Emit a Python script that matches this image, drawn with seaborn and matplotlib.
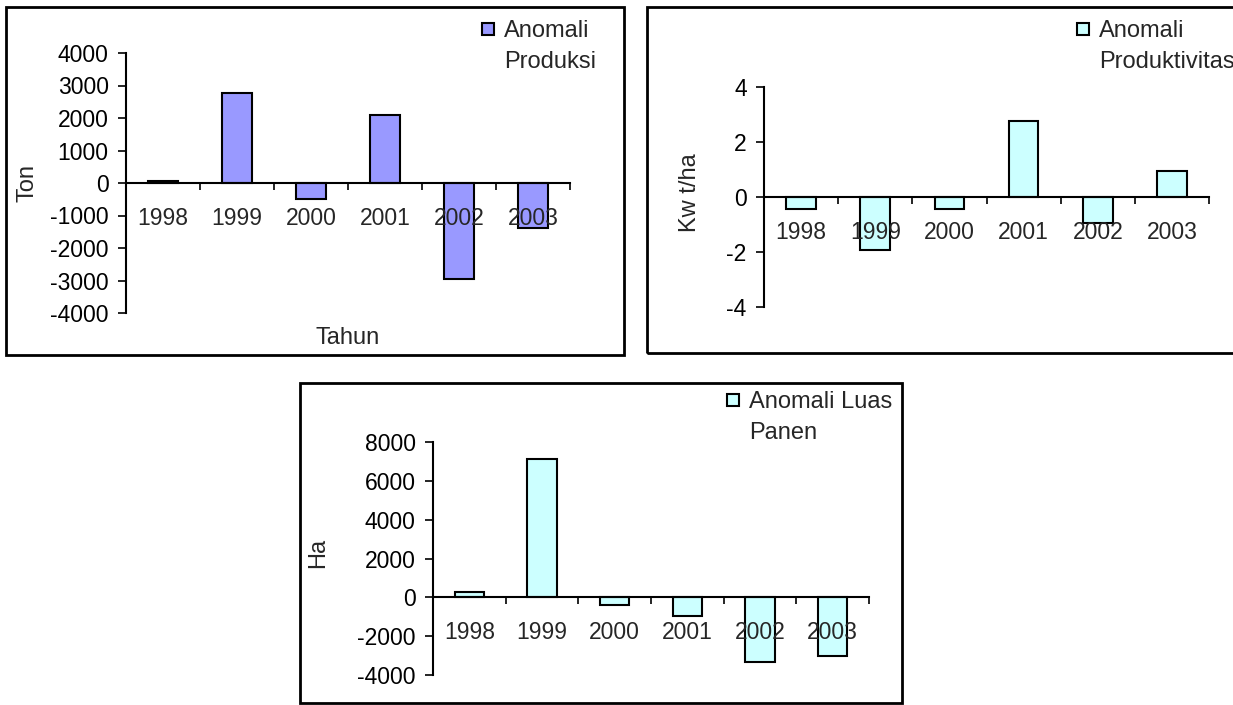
import matplotlib
matplotlib.use("Agg")
import matplotlib.pyplot as plt
from matplotlib.patches import Rectangle
import numpy as np
import seaborn as sns

years = ["1998", "1999", "2000", "2001", "2002", "2003"]
produksi = [60, 2770, -490, 2080, -2940, -1390]
produktivitas = [-0.43, -1.91, -0.43, 2.78, -0.95, 0.95]
luas_panen = [250, 7150, -370, -960, -3320, -3000]

W, H = 1233, 705

sns.set_style("white")
plt.rcParams["font.family"] = ["Liberation Sans", "DejaVu Sans"]
plt.rcParams["axes.unicode_minus"] = False

fig = plt.figure(figsize=(W / 100, H / 100), dpi=100)


def px_axes(left, top, right, bottom):
    return fig.add_axes([left / W, 1 - bottom / H, (right - left) / W, (bottom - top) / H])


def fig_xy(x, y):
    return x / W, 1 - y / H


def box(left, top, right, bottom):
    x0, y0 = fig_xy(left, bottom)
    fig.patches.append(Rectangle((x0, y0), (right - left) / W, (bottom - top) / H,
                                 transform=fig.transFigure, fill=False,
                                 edgecolor="black", linewidth=2))


def legend(x, y, color, text):
    # square marker + label, top-left at pixel (x, y)
    x0, y0 = fig_xy(x, y + 12)
    fig.patches.append(Rectangle((x0, y0), 12 / W, 12 / H, transform=fig.transFigure,
                                 facecolor=color, edgecolor="black", linewidth=1.5))
    tx, ty = fig_xy(x + 22, y - 3)
    fig.text(tx, ty, text, fontsize=17, va="top", ha="left", linespacing=1.55)


def panel(ax, values, color, ylim, step, ylabel, ylab_xy):
    sns.barplot(x=years, y=values, color=color, saturation=1, width=0.4,
                edgecolor="black", linewidth=1.5, ax=ax)
    ax.set_axisbelow(False)
    ax.set_xlim(-0.5, 5.5)
    ax.set_ylim(*ylim)
    ax.set_yticks(np.arange(ylim[0], ylim[1] + step / 2, step))
    ax.set_xticks(np.arange(-0.5, 6, 1), labels=[""] * 7)
    ax.set_xticks(range(6), labels=years, minor=True)
    ax.set_facecolor("none")
    for s in ["top", "right"]:
        ax.spines[s].set_visible(False)
    ax.spines["bottom"].set_position(("data", 0))
    ax.spines["bottom"].set_linewidth(1.5)
    ax.spines["left"].set_linewidth(1.5)
    ax.spines["bottom"].set_color("black")
    ax.spines["left"].set_color("black")
    ax.tick_params(axis="y", direction="out", length=5.5, width=1.2, pad=7,
                   labelsize=16.5, left=True, colors="black")
    ax.tick_params(axis="x", which="major", direction="out", length=5, width=1.2,
                   bottom=True, colors="black")
    ax.tick_params(axis="x", which="minor", length=0, pad=17, labelsize=16.5)
    ax.set_xlabel("")
    ax.set_ylabel(ylabel, fontsize=17)
    ax.yaxis.label.set_va("center")
    ax.yaxis.set_label_coords(*fig_xy(*ylab_xy), transform=fig.transFigure)


# panel 1: produksi
box(6, 7, 624, 355)
ax1 = px_axes(126, 53, 570, 313)
panel(ax1, produksi, "#9999FF", (-4000, 4000), 1000, "Ton", (28, 183))
fig.text(*fig_xy(348, 338), "Tahun", fontsize=17, ha="center", va="center")
legend(482, 23, "#9999FF", "Anomali\nProduksi")

# panel 2: produktivitas
box(647, 7, 1245, 353)
ax2 = px_axes(764, 87, 1209, 307)
panel(ax2, produktivitas, "#CCFFFF", (-4, 4), 2, "Kw t/ha", (690, 193))
legend(1077, 23, "#CCFFFF", "Anomali\nProduktivitas")

# panel 3: luas panen
box(300, 383, 902, 703)
ax3 = px_axes(433, 442, 869, 675)
panel(ax3, luas_panen, "#CCFFFF", (-4000, 8000), 2000, "Ha", (318, 553))
legend(727, 394, "#CCFFFF", "Anomali Luas\nPanen")

fig.savefig("out.png", dpi=100)
